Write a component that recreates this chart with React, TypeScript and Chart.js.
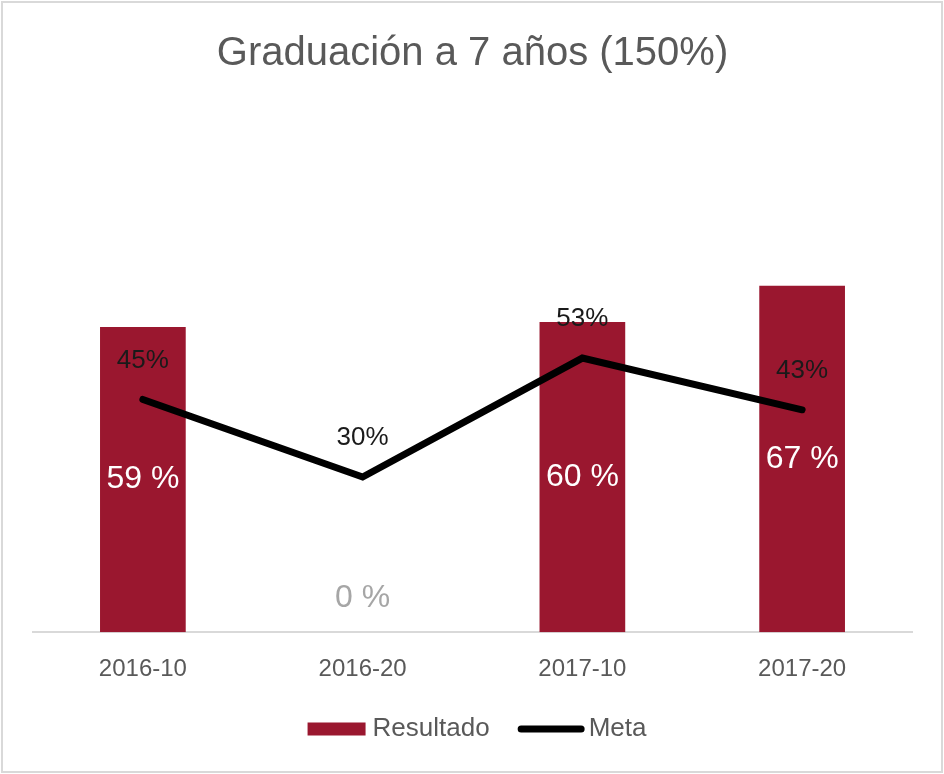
import React, { useEffect, useRef } from "react";
import { Chart, registerables } from "chart.js";

Chart.register(...registerables);

const categories = ["2016-10", "2016-20", "2017-10", "2017-20"];
const resultado = [59, 0, 60, 67];
const meta = [45, 30, 53, 43];
const resultadoLabels = ["59 %", "0 %", "60 %", "67 %"];
const metaLabels = ["45%", "30%", "53%", "43%"];
const seriesNames = ["Resultado", "Meta"];

const FONT = "'Liberation Sans', Arial, sans-serif";
const GRAY = "#595959";
const BAR = "#9a172f";

const labelPlugin = {
  id: "valueLabels",
  afterDatasetsDraw(chart: any) {
    const ctx = chart.ctx;
    ctx.save();
    ctx.textAlign = "center";
    ctx.textBaseline = "middle";
    const barMeta = chart.getDatasetMeta(0);
    barMeta.data.forEach((el: any, i: number) => {
      const v = resultado[i];
      ctx.font = `32px ${FONT}`;
      if (v > 0) {
        ctx.fillStyle = "#ffffff";
        ctx.fillText(resultadoLabels[i], el.x, (el.y + el.base) / 2);
      } else {
        ctx.fillStyle = "#a6a6a6";
        ctx.fillText(resultadoLabels[i], el.x, el.base - 34);
      }
    });
    const lineMeta = chart.getDatasetMeta(1);
    lineMeta.data.forEach((el: any, i: number) => {
      ctx.fillStyle = "#1a1a1a";
      ctx.font = `26px ${FONT}`;
      ctx.fillText(metaLabels[i], el.x, el.y - 39);
    });
    ctx.restore();
  },
};

const legendPlugin = {
  id: "customLegend",
  afterDraw(chart: any) {
    const ctx = chart.ctx;
    const cy = 729;
    ctx.save();
    ctx.font = `26px ${FONT}`;
    ctx.textBaseline = "middle";
    ctx.textAlign = "left";
    const w0 = ctx.measureText(seriesNames[0]).width;
    const w1 = ctx.measureText(seriesNames[1]).width;
    const boxW = 58;
    const lineW = 67;
    const gap1 = 7;
    const gapItems = 28;
    const gap2 = 4;
    const total = boxW + gap1 + w0 + gapItems + lineW + gap2 + w1;
    let x = (chart.width - total) / 2 + 5;
    ctx.fillStyle = BAR;
    ctx.fillRect(x, cy - 6.5, boxW, 13);
    x += boxW + gap1;
    ctx.fillStyle = GRAY;
    ctx.fillText(seriesNames[0], x, cy);
    x += w0 + gapItems;
    ctx.strokeStyle = "#000000";
    ctx.lineWidth = 7;
    ctx.lineCap = "round";
    ctx.beginPath();
    ctx.moveTo(x + 3.5, cy);
    ctx.lineTo(x + lineW - 3.5, cy);
    ctx.stroke();
    x += lineW + gap2;
    ctx.fillStyle = GRAY;
    ctx.fillText(seriesNames[1], x, cy);
    ctx.restore();
  },
};

export default function App() {
  const ref = useRef<HTMLCanvasElement>(null);
  useEffect(() => {
    if (!ref.current) return;
    const chart = new Chart(ref.current, {
      type: "bar",
      data: {
        labels: categories,
        datasets: [
          {
            type: "bar",
            label: seriesNames[0],
            data: resultado,
            backgroundColor: BAR,
            categoryPercentage: 1,
            barPercentage: 0.39,
            order: 1,
          } as any,
          {
            type: "line",
            label: seriesNames[1],
            data: meta,
            borderColor: "#000000",
            backgroundColor: "#000000",
            borderWidth: 7,
            borderCapStyle: "round",
            borderJoinStyle: "miter",
            pointRadius: 0,
            pointHoverRadius: 0,
            tension: 0,
            order: 0,
          } as any,
        ],
      },
      options: {
        responsive: false,
        animation: false,
        devicePixelRatio: 1,
        layout: { padding: { left: 33, right: 32, top: 0, bottom: 67 } },
        scales: {
          x: {
            grid: { display: false, drawTicks: false },
            border: { display: true, color: "#d9d9d9", width: 2 },
            ticks: { color: GRAY, font: { family: FONT, size: 24 }, padding: 23 },
          },
          y: {
            display: false,
            min: 0,
            max: 100,
          },
        },
        plugins: {
          title: {
            display: true,
            text: "Graduación a 7 años (150%)",
            color: GRAY,
            font: { family: FONT, size: 40, weight: "normal" },
            padding: { top: 30, bottom: 37 },
          },
          legend: { display: false },
          tooltip: { enabled: false },
        },
      },
      plugins: [labelPlugin, legendPlugin],
    } as any);
    return () => chart.destroy();
  }, []);
  return (
    <div style={{ position: "fixed", left: 0, top: 0, width: 944, height: 774, background: "#fff" }}>
      <div
        style={{
          position: "absolute",
          left: 1,
          top: 1,
          width: 942,
          height: 772,
          boxSizing: "border-box",
          border: "2px solid #d9d9d9",
        }}
      />
      <canvas ref={ref} width={944} height={774} style={{ position: "absolute", left: 0, top: 0 }} />
    </div>
  );
}
